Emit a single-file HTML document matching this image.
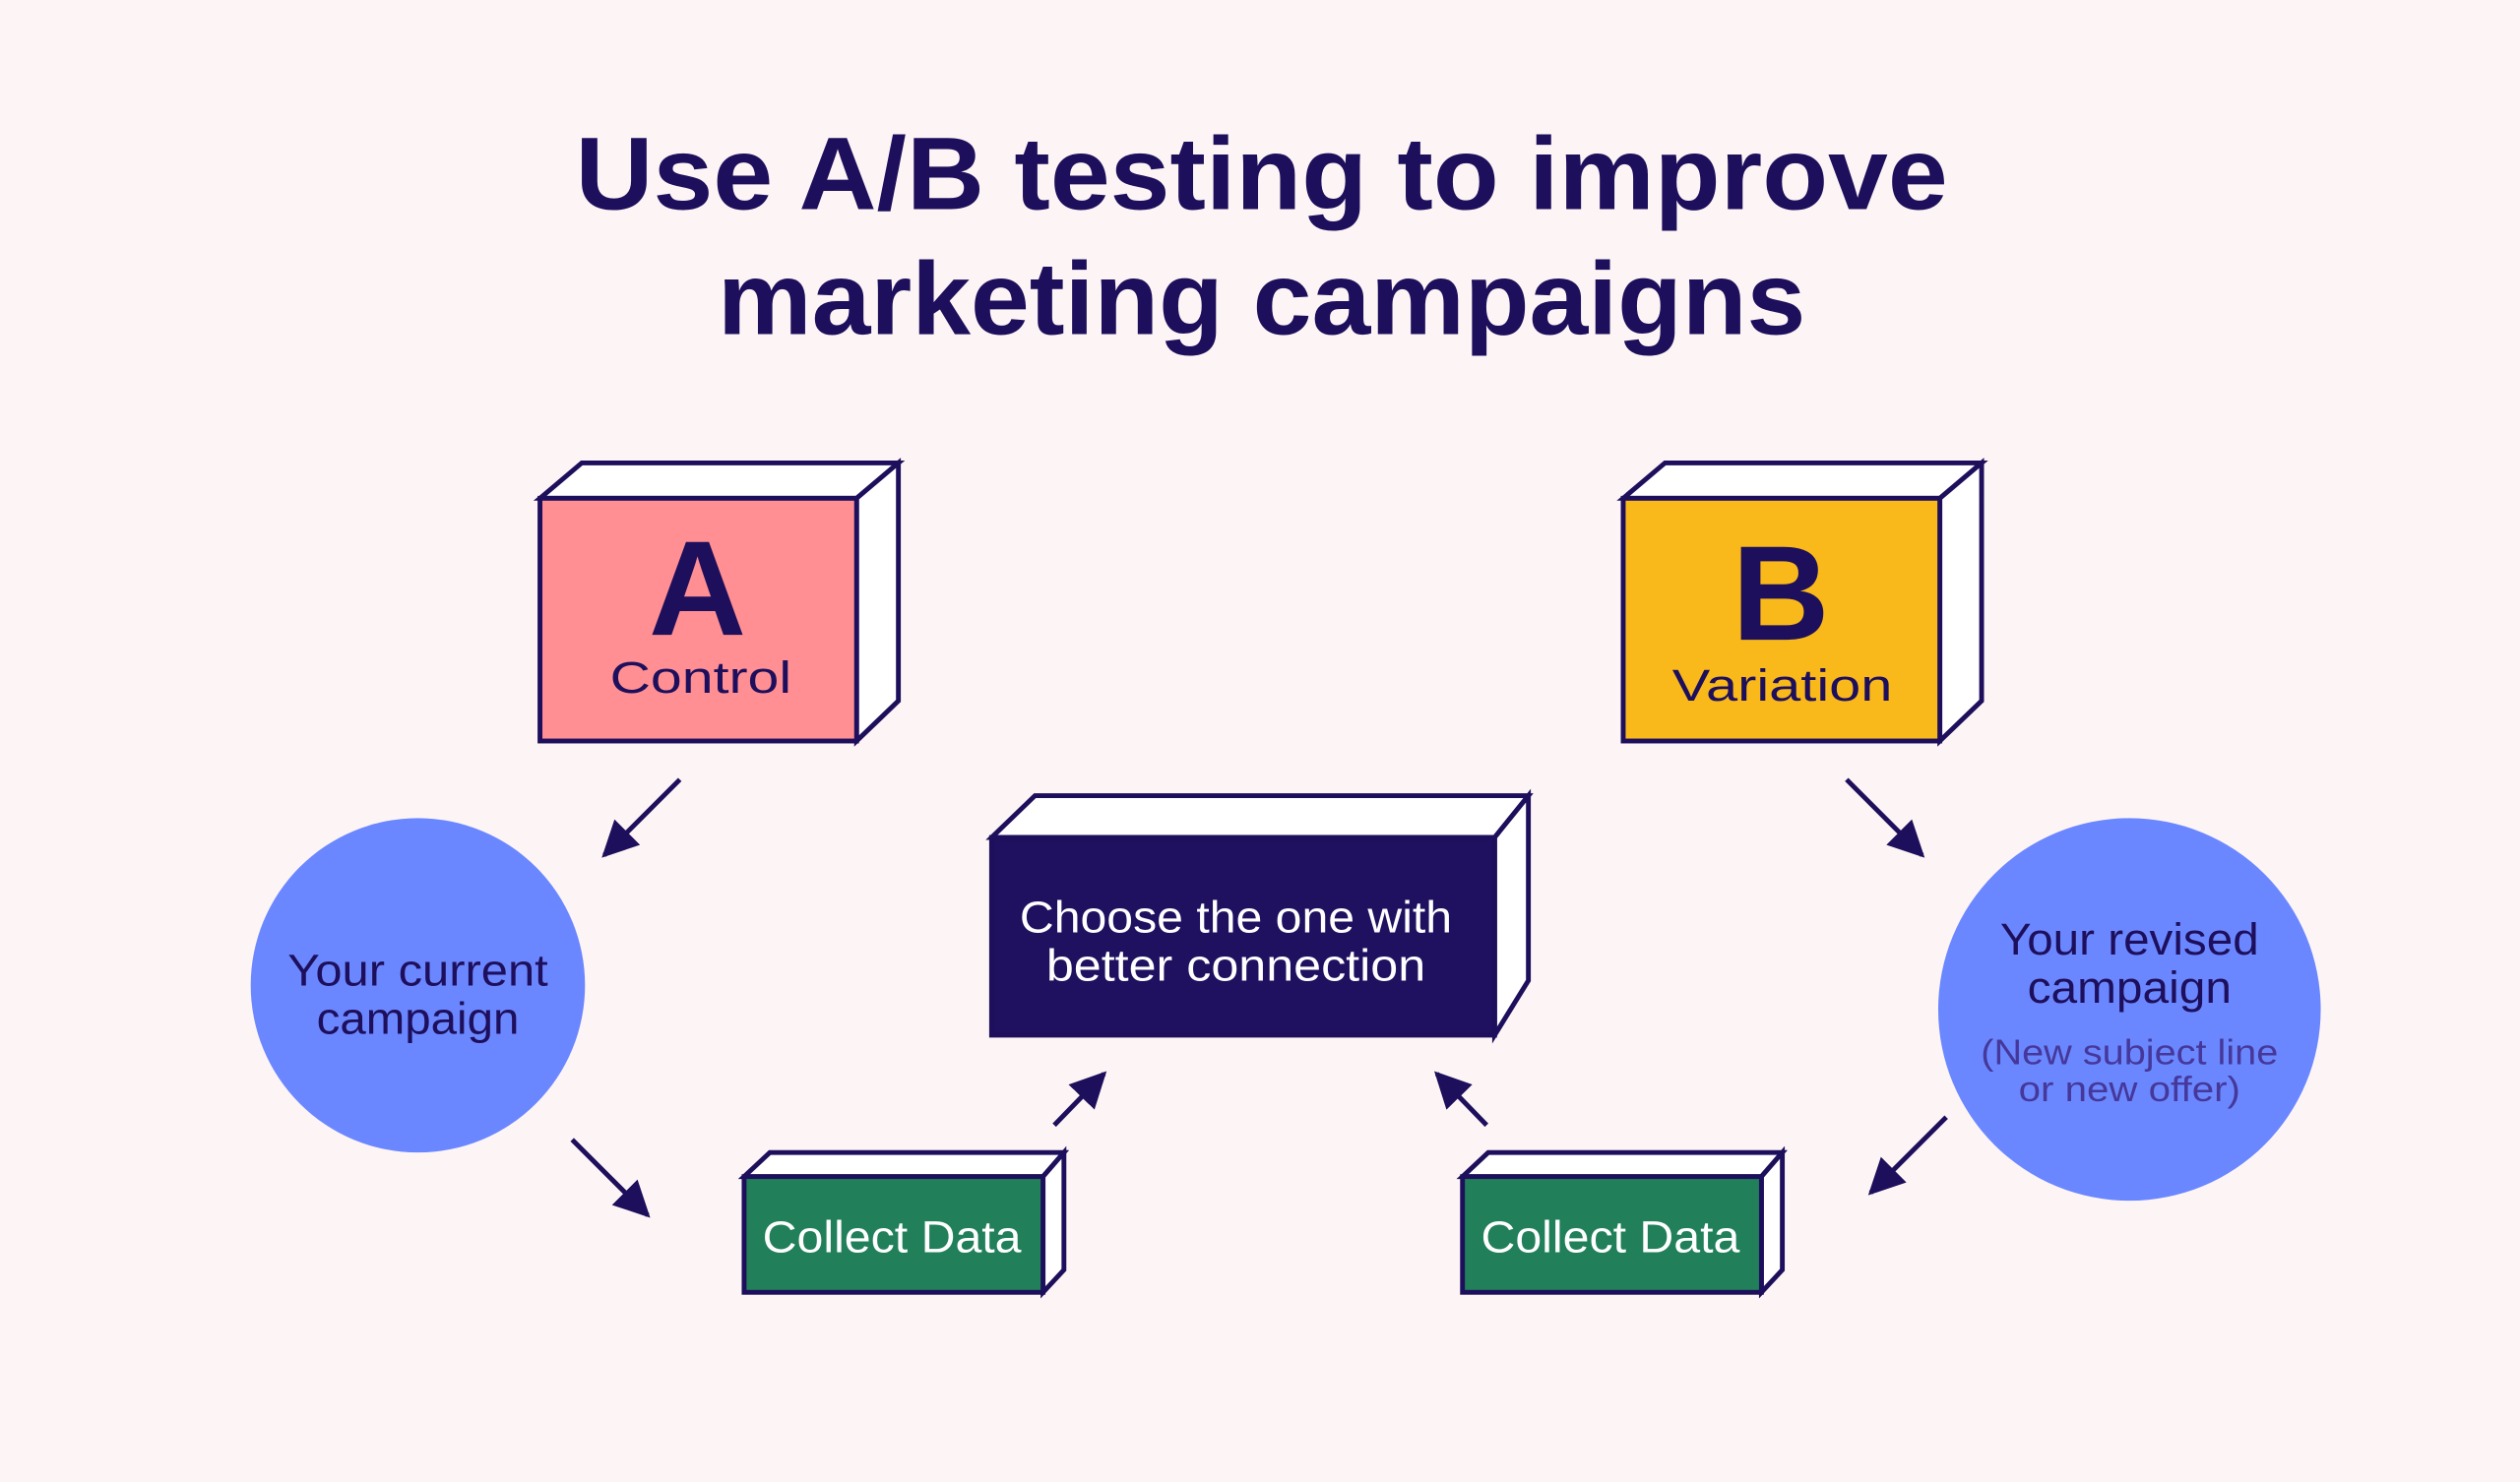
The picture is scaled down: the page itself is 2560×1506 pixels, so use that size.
<!DOCTYPE html>
<html><head><meta charset="utf-8"><style>
html,body{margin:0;padding:0;background:#fdf5f5;}
svg{display:block;}
text{font-family:"Liberation Sans",sans-serif;}
</style></head><body>
<svg width="2560" height="1506" viewBox="0 0 1568 922" preserveAspectRatio="none" xmlns="http://www.w3.org/2000/svg">
<defs>
<marker id="ah" viewBox="0 0 10 10" refX="9" refY="5" markerWidth="7.5" markerHeight="7.5" orient="auto" markerUnits="strokeWidth">
<path d="M0,0 L10,5 L0,10 z" fill="#1e0f5c"/></marker>
</defs>
<rect width="1568" height="922" fill="#fdf5f5"/>
<g fill="#1e0f5c" font-weight="bold" text-anchor="middle" font-size="64">
<text x="785" y="130" textLength="854" lengthAdjust="spacingAndGlyphs">Use A/B testing to improve</text>
<text x="785" y="208" textLength="677" lengthAdjust="spacingAndGlyphs">marketing campaigns</text>
</g>
<g stroke="#1e0f5c" stroke-width="3" stroke-linejoin="miter">
<polygon points="336,310 362,288 559,288 533,310" fill="#fff"/>
<polygon points="533,310 559,288 559,436 533,461" fill="#fff"/>
<rect x="336" y="310" width="197" height="151" fill="#ff8f93"/>
<polygon points="1010,310 1036,288 1233,288 1207,310" fill="#fff"/>
<polygon points="1207,310 1233,288 1233,436 1207,461" fill="#fff"/>
<rect x="1010" y="310" width="197" height="151" fill="#f9b91a"/>
<polygon points="617,521 644,495 951,495 930,521" fill="#fff"/>
<polygon points="930,521 951,495 951,610 930,644" fill="#fff"/>
<rect x="617" y="521" width="313" height="123" fill="#1f1060"/>
<polygon points="463,732 479,717 662,717 649,732" fill="#fff"/>
<polygon points="649,732 662,717 662,790 649,804" fill="#fff"/>
<rect x="463" y="732" width="186" height="72" fill="#21805a"/>
<polygon points="910,732 926,717 1109,717 1096,732" fill="#fff"/>
<polygon points="1096,732 1109,717 1109,790 1096,804" fill="#fff"/>
<rect x="910" y="732" width="186" height="72" fill="#21805a"/>
</g>
<circle cx="260" cy="613" r="104" fill="#6b87ff"/>
<circle cx="1325" cy="628" r="119" fill="#6b87ff"/>
<g stroke="#1e0f5c" stroke-width="3" marker-end="url(#ah)">
<line x1="423" y1="485" x2="376" y2="532"/>
<line x1="1149" y1="485" x2="1196" y2="532"/>
<line x1="356" y1="709" x2="403" y2="756"/>
<line x1="1211" y1="695" x2="1164" y2="742"/>
<line x1="656" y1="700" x2="687" y2="668"/>
<line x1="925" y1="700" x2="894" y2="668"/>
</g>
<g text-anchor="middle" fill="#1e0f5c">
<text x="434" y="395" font-size="84" font-weight="bold">A</text>
<text x="436" y="431" font-size="28" textLength="113" lengthAdjust="spacingAndGlyphs">Control</text>
<text x="1108" y="398" font-size="84" font-weight="bold">B</text>
<text x="1109" y="436" font-size="28" textLength="137" lengthAdjust="spacingAndGlyphs">Variation</text>
<text x="260" y="613" font-size="28" textLength="162" lengthAdjust="spacingAndGlyphs">Your current</text>
<text x="260" y="643" font-size="28" textLength="126" lengthAdjust="spacingAndGlyphs">campaign</text>
<text x="1325" y="594" font-size="28" textLength="161" lengthAdjust="spacingAndGlyphs">Your revised</text>
<text x="1325" y="624" font-size="28" textLength="127" lengthAdjust="spacingAndGlyphs">campaign</text>
<text x="1325" y="662" font-size="22" fill="#45389a" textLength="185" lengthAdjust="spacingAndGlyphs">(New subject line</text>
<text x="1325" y="685" font-size="22" fill="#45389a" textLength="138" lengthAdjust="spacingAndGlyphs">or new offer)</text>
</g>
<g text-anchor="middle" fill="#fff" font-size="28">
<text x="769" y="580" textLength="269" lengthAdjust="spacingAndGlyphs">Choose the one with</text>
<text x="769" y="610" textLength="236" lengthAdjust="spacingAndGlyphs">better connection</text>
<text x="555" y="779" textLength="161" lengthAdjust="spacingAndGlyphs">Collect Data</text>
<text x="1002" y="779" textLength="161" lengthAdjust="spacingAndGlyphs">Collect Data</text>
</g>
</svg>
</body></html>
